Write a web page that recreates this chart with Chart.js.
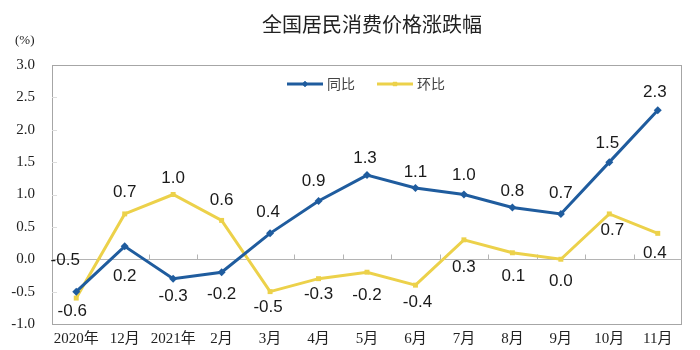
<!DOCTYPE html>
<html>
<head>
<meta charset="utf-8">
<script src="https://cdn.jsdelivr.net/npm/chart.js@4/dist/chart.umd.min.js"></script>
<style>
  body { margin: 0; background: #fff; }
  #wrap { width: 700px; height: 350px; }
</style>
</head>
<body>
<div id="wrap"><canvas id="cpiChart" width="700" height="350"></canvas></div>
<script>
const categories = ['2020年', '12月', '2021年', '2月', '3月', '4月', '5月', '6月', '7月', '8月', '9月', '10月', '11月'];
const yoy = [-0.5, 0.2, -0.3, -0.2, 0.4, 0.9, 1.3, 1.1, 1.0, 0.8, 0.7, 1.5, 2.3];   // 同比
const mom = [-0.6, 0.7, 1.0, 0.6, -0.5, -0.3, -0.2, -0.4, 0.3, 0.1, 0.0, 0.7, 0.4]; // 环比
const yMin = -1.0, yMax = 3.0, yStep = 0.5;

// where each value label sits relative to its point (px)
const yoyLabelDx = [-11, 0, 0, 0, -2, -5, -2, 0, 0, 0, 0, -2, -3];
const yoyLabelDy = [-31, 30, 18, 22, -21, -20, -17, -16, -19, -16, -21, -19, -18];
const momLabelDx = [-4, 0, 0, 0, -2, 0, 0, 2, 0, 1, 0, 3, -3];
const momLabelDy = [13, -22, -16, -20, 16, 16, 23, 17, 27, 24, 22, 16, 20];

const BLUE = '#1f5c9e';
const YELLOW = '#ecd14a';
const SERIF = '"Liberation Serif", "Noto Sans CJK SC", serif';
const SANS = '"Liberation Sans", Arial, sans-serif';
const CJK = '"Noto Sans CJK SC", sans-serif';

// frame, zero line with category ticks, small y ticks
const framePlugin = {
  id: 'frame',
  beforeDatasetsDraw(chart) {
    const { ctx, chartArea: a, scales } = chart;
    ctx.save();
    ctx.strokeStyle = '#a6a6a6';
    ctx.lineWidth = 1;
    ctx.strokeRect(a.left + 0.5, a.top + 0.5, a.right - a.left - 1, a.bottom - a.top);

    // faint y ticks on the left edge
    ctx.strokeStyle = '#dcdcdc';
    for (let v = yMin + yStep; v < yMax; v += yStep) {
      const y = Math.round(scales.y.getPixelForValue(v)) + 0.5;
      ctx.beginPath();
      ctx.moveTo(a.left, y);
      ctx.lineTo(a.left + 5, y);
      ctx.stroke();
    }

    const y0 = Math.round(scales.y.getPixelForValue(0)) + 0.5;
    ctx.strokeStyle = '#b4b4b4';
    ctx.beginPath();
    ctx.moveTo(a.left, y0);
    ctx.lineTo(a.right, y0);
    ctx.stroke();
    const step = (a.right - a.left) / categories.length;
    for (let i = 1; i < categories.length; i++) {
      const x = Math.round(a.left + i * step) + 0.5;
      ctx.beginPath();
      ctx.moveTo(x, y0);
      ctx.lineTo(x, y0 - 5);
      ctx.stroke();
    }
    ctx.restore();
  }
};

// value labels next to each point
const valueLabels = {
  id: 'valueLabels',
  afterDatasetsDraw(chart) {
    const { ctx } = chart;
    const offsets = [[yoyLabelDx, yoyLabelDy], [momLabelDx, momLabelDy]];
    ctx.save();
    ctx.font = '17px ' + SANS;
    ctx.fillStyle = '#1a1a1a';
    ctx.textAlign = 'center';
    ctx.textBaseline = 'middle';
    chart.data.datasets.forEach((ds, di) => {
      const meta = chart.getDatasetMeta(di);
      meta.data.forEach((pt, i) => {
        ctx.fillText(ds.data[i].toFixed(1), pt.x + offsets[di][0][i], pt.y + offsets[di][1][i]);
      });
    });
    ctx.restore();
  }
};

// title, unit and legend
const decorations = {
  id: 'decorations',
  afterDraw(chart) {
    const { ctx } = chart;
    ctx.save();
    ctx.fillStyle = '#222';
    ctx.textBaseline = 'middle';
    ctx.textAlign = 'center';
    ctx.font = '20px ' + CJK;
    ctx.fillText('全国居民消费价格涨跌幅', 372, 24);

    ctx.textAlign = 'left';
    ctx.font = '13px ' + SERIF;
    ctx.fillText('(%)', 15, 41);

    const items = [
      { x: 287, color: BLUE, style: 'rectRot', text: chart.data.datasets[0].label },
      { x: 377, color: YELLOW, style: 'rect', text: chart.data.datasets[1].label }
    ];
    ctx.font = '14px ' + CJK;
    items.forEach(it => {
      const y = 84;
      ctx.strokeStyle = it.color;
      ctx.lineWidth = 3;
      ctx.beginPath();
      ctx.moveTo(it.x, y);
      ctx.lineTo(it.x + 36, y);
      ctx.stroke();
      ctx.fillStyle = it.color;
      Chart.helpers.drawPoint(ctx, { pointStyle: it.style, radius: 3, rotation: 0, borderWidth: 0 }, it.x + 18, y);
      ctx.fill();
      ctx.fillStyle = '#444';
      ctx.fillText(it.text, it.x + 40, y);
    });
    ctx.restore();
  }
};

new Chart(document.getElementById('cpiChart'), {
  type: 'line',
  data: {
    labels: categories,
    datasets: [
      {
        label: '同比',
        data: yoy,
        borderColor: BLUE,
        backgroundColor: BLUE,
        borderWidth: 3,
        pointStyle: 'rectRot',
        pointRadius: 4,
        pointBorderWidth: 0,
        tension: 0
      },
      {
        label: '环比',
        data: mom,
        borderColor: YELLOW,
        backgroundColor: YELLOW,
        borderWidth: 3,
        pointStyle: 'rect',
        pointRadius: 3.5,
        pointBorderWidth: 0,
        tension: 0
      }
    ]
  },
  options: {
    responsive: false,
    animation: false,
    layout: { padding: { left: 0, right: 18, top: 65, bottom: 0 } },
    plugins: {
      legend: { display: false },
      title: { display: false },
      tooltip: { enabled: false }
    },
    scales: {
      x: {
        offset: true,
        grid: { display: false, drawTicks: false },
        border: { display: false },
        ticks: {
          autoSkip: false,
          maxRotation: 0,
          padding: 6,
          color: '#222',
          font: { family: SERIF, size: 15 }
        },
        afterFit(scale) { scale.height = 26; }
      },
      y: {
        min: yMin,
        max: yMax,
        grid: { display: false, drawTicks: false },
        border: { display: false },
        ticks: {
          stepSize: yStep,
          padding: 17,
          color: '#222',
          font: { family: SERIF, size: 15 },
          callback: v => v.toFixed(1)
        },
        afterFit(scale) { scale.width = 52; }
      }
    }
  },
  plugins: [framePlugin, valueLabels, decorations]
});
</script>
</body>
</html>
